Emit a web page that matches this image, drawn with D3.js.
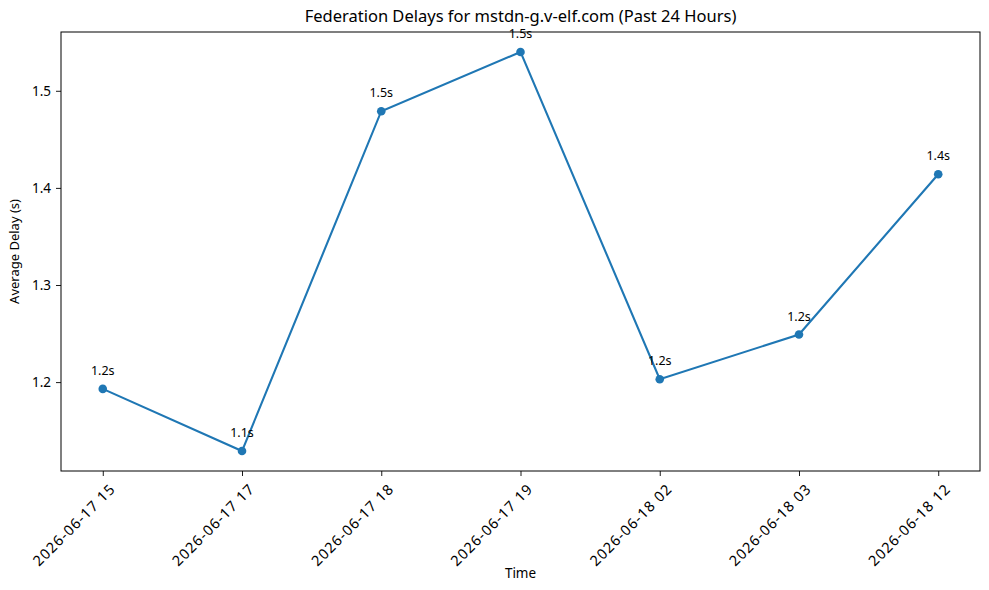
<!DOCTYPE html>
<html>
<head>
<meta charset="utf-8">
<script src="https://cdn.jsdelivr.net/npm/d3@7"></script>
<style>
  body { margin: 0; background: #fff; }
  svg text { font-family: "Noto Sans", sans-serif; fill: #000; }
</style>
</head>
<body>
<div id="chart"></div>
<script>
// chart data
var times = ["2026-06-17 15", "2026-06-17 17", "2026-06-17 18", "2026-06-17 19",
             "2026-06-18 02", "2026-06-18 03", "2026-06-18 12"];
var delays = [1.193, 1.129, 1.479, 1.540, 1.203, 1.249, 1.414];
var yTicks = [1.2, 1.3, 1.4, 1.5];

var W = 989, H = 590;
var margin = { top: 32, right: 9, bottom: 119, left: 61 };
var width = W - margin.left - margin.right,
    height = H - margin.top - margin.bottom;

var svg = d3.select("#chart").append("svg")
    .attr("width", W)
    .attr("height", H);

var g = svg.append("g")
    .attr("transform", "translate(" + margin.left + "," + margin.top + ")");

// matplotlib style 5% margins
var n = times.length;
var x = d3.scaleLinear()
    .domain([-0.05 * (n - 1), (n - 1) * 1.05])
    .range([0, width]);

var ymin = d3.min(delays), ymax = d3.max(delays), pad = (ymax - ymin) * 0.05;
var y = d3.scaleLinear()
    .domain([ymin - pad, ymax + pad])
    .range([height, 0]);

// axes
var xAxis = g.append("g")
    .attr("transform", "translate(0," + height + ")")
    .call(d3.axisBottom(x).tickValues(d3.range(n)).tickSize(5).tickPadding(4)
        .tickFormat(function(i) { return times[i]; }));
xAxis.select(".domain").remove();
xAxis.selectAll("line").attr("stroke", "#000").attr("stroke-width", 0.9);
xAxis.selectAll("text")
    .attr("font-size", "14.5px")
    .style("letter-spacing", "1px")
    .attr("text-anchor", "end")
    .attr("dy", "0.35em")
    .attr("transform", "translate(3,9) rotate(-45)");

var yAxis = g.append("g")
    .call(d3.axisLeft(y).tickValues(yTicks).tickSize(5).tickPadding(5)
        .tickFormat(d3.format(".1f")));
yAxis.select(".domain").remove();
yAxis.selectAll("line").attr("stroke", "#000").attr("stroke-width", 0.9);
yAxis.selectAll("text").attr("font-size", "13.5px");

// frame
g.append("rect")
    .attr("width", width)
    .attr("height", height)
    .attr("fill", "none")
    .attr("stroke", "#000")
    .attr("stroke-width", 1);

// line + markers
var line = d3.line()
    .x(function(d, i) { return x(i); })
    .y(function(d) { return y(d); });

g.append("path")
    .datum(delays)
    .attr("d", line)
    .attr("fill", "none")
    .attr("stroke", "#1f77b4")
    .attr("stroke-width", 2.1);

g.selectAll(".dot").data(delays).enter()
    .append("circle")
    .attr("class", "dot")
    .attr("cx", function(d, i) { return x(i); })
    .attr("cy", function(d) { return y(d); })
    .attr("r", 4.3)
    .attr("fill", "#1f77b4");

g.selectAll(".lbl").data(delays).enter()
    .append("text")
    .attr("class", "lbl")
    .attr("x", function(d, i) { return x(i); })
    .attr("y", function(d) { return y(d) - 14; })
    .attr("text-anchor", "middle")
    .attr("font-size", "12.5px")
    .text(function(d) { return d.toFixed(1) + "s"; });

// titles
svg.append("text")
    .attr("x", margin.left + width / 2)
    .attr("y", 22)
    .attr("text-anchor", "middle")
    .attr("font-size", "16.5px")
    .text("Federation Delays for mstdn-g.v-elf.com (Past 24 Hours)");

svg.append("text")
    .attr("x", margin.left + width / 2)
    .attr("y", 578)
    .attr("text-anchor", "middle")
    .attr("font-size", "13.5px")
    .text("Time");

svg.append("text")
    .attr("transform", "translate(19," + (margin.top + height / 2) + ") rotate(-90)")
    .attr("text-anchor", "middle")
    .attr("font-size", "13px")
    .text("Average Delay (s)");
</script>
</body>
</html>
